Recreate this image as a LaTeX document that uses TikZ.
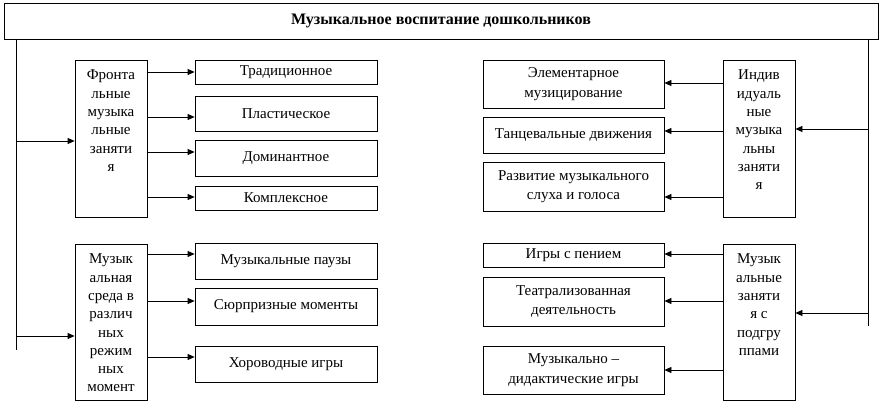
\documentclass[tikz,border=0pt]{standalone}
\usepackage{fontspec}
\setmainfont{Liberation Serif}
\usetikzlibrary{arrows.meta}
\begin{document}
\begin{tikzpicture}[x=1pt,y=-1pt,line width=0.8pt,
  box/.style={draw, inner sep=0pt, align=center, font=\fontsize{15}{19.5}\selectfont},
  vbox/.style={draw, inner sep=0pt, minimum width=72pt},
  vtext/.style={anchor=north, align=center, font=\fontsize{15}{18.3}\selectfont, inner sep=0pt, yshift=-10pt},
  arr/.style={-{Triangle[length=7pt,width=6pt]}}]
\useasboundingbox (0,0) rectangle (883,403);
% title
\node[box, minimum width=874pt, minimum height=36pt, font=\bfseries\fontsize{16}{18}\selectfont] (title) at (441,21) {Музыкальное воспитание дошкольников};
% left group 1
\node[vbox, minimum height=157pt, label={[vtext]north:Фронта\\льные\\музыка\\льные\\заняти\\я}] (front) at (111,138.5) {};
\node[box, minimum width=182pt, minimum height=24pt] (t1) at (286,72) {Традиционное};
\node[box, minimum width=182pt, minimum height=35pt] (t2) at (286,113.5) {Пластическое};
\node[box, minimum width=182pt, minimum height=36pt] (t3) at (286,158) {Доминантное};
\node[box, minimum width=182pt, minimum height=24pt] (t4) at (286,198) {Комплексное};
% left group 2
\node[vbox, minimum height=156pt, label={[vtext]north:Музык\\альная\\среда в\\различ\\ных\\режим\\ных\\момент}] (sreda) at (111,322) {};
\node[box, minimum width=182pt, minimum height=36pt] (s1) at (286,261) {Музыкальные паузы};
\node[box, minimum width=182pt, minimum height=37pt] (s2) at (286,306.5) {Сюрпризные моменты};
\node[box, minimum width=182pt, minimum height=36pt] (s3) at (286,364) {Хороводные игры};
% right group 1
\node[vbox, minimum height=157pt, label={[vtext]north:Индив\\идуаль\\ные\\музыка\\льны\\заняти\\я}] (indiv) at (759,138.5) {};
\node[box, minimum width=181pt, minimum height=48pt] (i1) at (573.5,84) {Элементарное\\музицирование};
\node[box, minimum width=181pt, minimum height=36pt] (i2) at (573.5,135) {Танцевальные движения};
\node[box, minimum width=181pt, minimum height=49pt] (i3) at (573.5,186.5) {Развитие музыкального\\слуха и голоса};
% right group 2
\node[vbox, minimum height=156pt, label={[vtext]north:Музык\\альные\\заняти\\я с\\подгру\\ппами}] (podgr) at (759,322) {};
\node[box, minimum width=181pt, minimum height=24pt] (p1) at (573.5,255) {Игры с пением};
\node[box, minimum width=181pt, minimum height=49pt] (p2) at (573.5,301.5) {Театрализованная\\деятельность};
\node[box, minimum width=181pt, minimum height=48pt] (p3) at (573.5,370) {Музыкально –\\дидактические игры};
% trunk lines
\coordinate (L0) at (16,39);
\coordinate (L1) at (16,350);
\coordinate (R0) at (868,39);
\coordinate (R1) at (868,326);
\draw (L0) -- (L1);
\draw (R0) -- (R1);
\draw[arr] (16,141) -- (front.west |- 16,141);
\draw[arr] (16,336) -- (sreda.west |- 16,336);
\draw[arr] (868,129) -- (indiv.east |- 868,129);
\draw[arr] (868,313) -- (podgr.east |- 868,313);
% branches left
\draw[arr] (front.east |- 0,72) -- (t1.west |- 0,72);
\draw[arr] (front.east |- 0,117) -- (t2.west |- 0,117);
\draw[arr] (front.east |- 0,152) -- (t3.west |- 0,152);
\draw[arr] (front.east |- 0,197) -- (t4.west |- 0,197);
\draw[arr] (sreda.east |- 0,254) -- (s1.west |- 0,254);
\draw[arr] (sreda.east |- 0,301) -- (s2.west |- 0,301);
\draw[arr] (sreda.east |- 0,357) -- (s3.west |- 0,357);
% branches right
\draw[arr] (indiv.west |- 0,83) -- (i1.east |- 0,83);
\draw[arr] (indiv.west |- 0,131) -- (i2.east |- 0,131);
\draw[arr] (indiv.west |- 0,197) -- (i3.east |- 0,197);
\draw[arr] (podgr.west |- 0,254) -- (p1.east |- 0,254);
\draw[arr] (podgr.west |- 0,301) -- (p2.east |- 0,301);
\draw[arr] (podgr.west |- 0,370) -- (p3.east |- 0,370);
\end{tikzpicture}
\end{document}
